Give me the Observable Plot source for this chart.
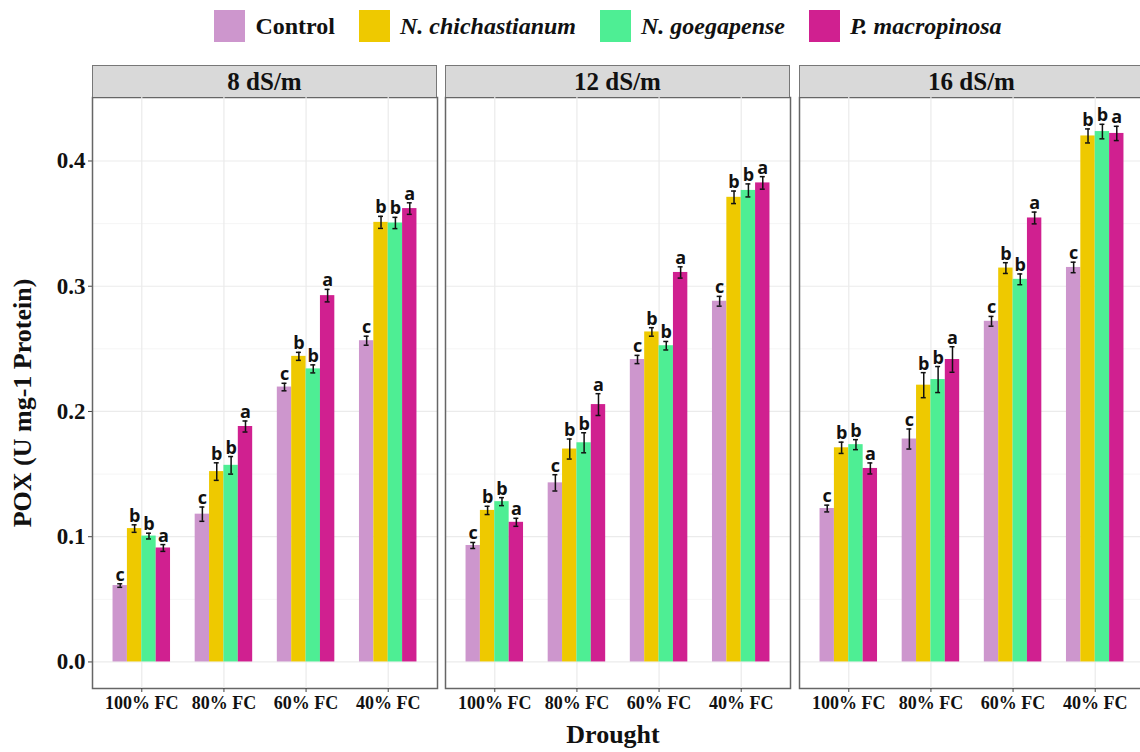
<!DOCTYPE html>
<html><head><meta charset="utf-8">
<script src="https://cdn.jsdelivr.net/npm/d3@7"></script>
<script src="https://cdn.jsdelivr.net/npm/@observablehq/plot@0.6"></script>
<style>
body{margin:0;background:#fff;}
#wrap{position:relative;width:1140px;height:752px;overflow:hidden;background:#fff;font-family:"Liberation Serif","Times New Roman",serif;color:#111;}
.strip{position:absolute;top:65px;height:32px;width:345px;box-sizing:border-box;background:#d9d9d9;border:1.5px solid #777;border-bottom:none;font-weight:bold;font-size:25px;text-align:center;line-height:31px;color:#111;}
#legend{position:absolute;top:10px;left:0;width:1216px;display:flex;justify-content:center;align-items:center;gap:24px;}
.item{display:flex;align-items:center;font-weight:bold;font-size:24px;}
.sw{width:31px;height:32px;margin-right:10px;}
.it{font-style:italic;}
#ytitle{position:absolute;left:23px;top:403px;transform:translate(-50%,-50%) rotate(-90deg);white-space:nowrap;font-weight:bold;font-size:26px;}
#xtitle{position:absolute;left:613px;top:722px;transform:translateX(-50%);white-space:nowrap;font-weight:bold;font-size:26px;line-height:1;}
.svgbox{position:absolute;top:95px;}
.svgbox svg{max-width:none !important;}
</style></head>
<body><div id="wrap">
<div id="legend"></div>
<div id="ytitle">POX (U mg-1 Protein)</div>
<div id="xtitle">Drought</div>
</div>
<script>
// ---- data ----
const salinity = ["8 dS/m", "12 dS/m", "16 dS/m"];
const drought = ["100% FC", "80% FC", "60% FC", "40% FC"];
const treatments = ["Control", "N. chichastianum", "N. goegapense", "P. macropinosa"];
const colors = ["#CD96CD", "#EEC900", "#4EEE94", "#D02090"];
const yTicks = [0, 0.1, 0.2, 0.3, 0.4];
const yMinor = [0.05, 0.15, 0.25, 0.35];

// values ordered: 8 dS/m (100,80,60,40% FC), 12 dS/m (...), 16 dS/m (...)
const controlMean = [0.061, 0.118, 0.2195, 0.2565, 0.093, 0.143, 0.2415, 0.288, 0.1225, 0.178, 0.272, 0.315];
const chichMean   = [0.1065, 0.152, 0.244, 0.351, 0.121, 0.170, 0.2635, 0.371, 0.171, 0.221, 0.3145, 0.420];
const goegMean    = [0.1005, 0.157, 0.234, 0.3505, 0.128, 0.175, 0.2525, 0.3765, 0.1735, 0.2255, 0.3055, 0.4235];
const macroMean   = [0.091, 0.188, 0.2925, 0.362, 0.1115, 0.2055, 0.311, 0.3825, 0.1545, 0.2415, 0.3545, 0.422];

const controlSE = [0.0014, 0.0057, 0.003, 0.0036, 0.0024, 0.0065, 0.0033, 0.0039, 0.0027, 0.008, 0.0039, 0.0042];
const chichSE   = [0.003, 0.007, 0.0032, 0.0048, 0.0033, 0.008, 0.0034, 0.005, 0.0045, 0.010, 0.0043, 0.0056];
const goegSE    = [0.0023, 0.007, 0.0032, 0.0045, 0.0032, 0.008, 0.0034, 0.0052, 0.004, 0.0104, 0.0043, 0.0058];
const macroSE   = [0.0027, 0.0044, 0.005, 0.0046, 0.0032, 0.0087, 0.0045, 0.005, 0.0044, 0.0102, 0.0047, 0.0057];

const controlLetter = ["c","c","c","c","c","c","c","c","c","c","c","c"];
const chichLetter   = ["b","b","b","b","b","b","b","b","b","b","b","b"];
const goegLetter    = ["b","b","b","b","b","b","b","b","b","b","b","b"];
const macroLetter   = ["a","a","a","a","a","a","a","a","a","a","a","a"];

const means = [controlMean, chichMean, goegMean, macroMean];
const ses = [controlSE, chichSE, goegSE, macroSE];
const letters = [controlLetter, chichLetter, goegLetter, macroLetter];

const rows = [];
salinity.forEach((s, si) => drought.forEach((d, di) => treatments.forEach((t, ti) => {
  const k = si * 4 + di;
  rows.push({sal: s, drought: d, trt: t, mean: means[ti][k], se: ses[ti][k], letter: letters[ti][k]});
})));

const yDomain = [-0.0212, 0.4507];
const H = 623, MT = 2, MB = 30;
const wrap = document.getElementById("wrap");

// legend
const legend = document.getElementById("legend");
treatments.forEach((t, i) => {
  const it = document.createElement("div");
  it.className = "item";
  const sw = document.createElement("div");
  sw.className = "sw"; sw.style.background = colors[i];
  const tx = document.createElement("span");
  tx.textContent = t; if (i > 0) tx.className = "it";
  it.appendChild(sw); it.appendChild(tx);
  legend.appendChild(it);
});

function addBox(node, left, w) {
  const b = document.createElement("div"); b.className = "svgbox";
  b.style.left = left + "px"; b.style.width = w + "px"; b.style.height = H + "px";
  b.appendChild(node); wrap.appendChild(b);
}

// y axis
addBox(Plot.plot({
  width: 96, height: H, marginLeft: 92, marginRight: 4, marginTop: MT, marginBottom: MB,
  style: {background: "transparent", color: "#111"},
  y: {domain: yDomain},
  marks: [Plot.axisY({ticks: yTicks, tickFormat: d3.format(".1f"), tickSize: 4, tickPadding: 3,
    fontSize: 23, fontWeight: "bold", fontFamily: "Liberation Serif", label: null, stroke: "#444"})]
}), 0, 96);

const panelLeft = [92, 445, 799];
const PW = 349;

function background() {
  return Plot.plot({
    width: PW, height: H, marginLeft: 2, marginRight: 2, marginTop: MT, marginBottom: MB,
    style: {background: "transparent"},
    y: {domain: yDomain, axis: null},
    marks: [
      Plot.gridY(yMinor, {stroke: "#f2f2f2", strokeOpacity: 1, strokeWidth: 0.8}),
      Plot.gridY(yTicks, {stroke: "#ebebeb", strokeOpacity: 1, strokeWidth: 1.2}),
      Plot.frame({stroke: "#666", strokeWidth: 1.5})
    ]
  });
}

function panel(s) {
  const data = rows.filter(r => r.sal === s);
  const marks = [];
  if (Plot.gridFx) marks.push(Plot.gridFx({stroke: "#ebebeb", strokeOpacity: 1, strokeWidth: 1.2}));
  marks.push(
    Plot.barY(data, {fx: "drought", x: "trt", y: "mean", fill: "trt"}),
    Plot.ruleX(data, {fx: "drought", x: "trt", y1: d => d.mean - d.se, y2: d => d.mean + d.se, stroke: "#111", strokeWidth: 1.5}),
    Plot.tickY(data, {fx: "drought", x: "trt", y: d => d.mean + d.se, insetLeft: 4.7, insetRight: 4.7, stroke: "#111", strokeWidth: 1.5}),
    Plot.tickY(data, {fx: "drought", x: "trt", y: d => d.mean - d.se, insetLeft: 4.7, insetRight: 4.7, stroke: "#111", strokeWidth: 1.5}),
    Plot.text(data, {fx: "drought", x: "trt", y: d => d.mean + d.se, text: "letter", lineAnchor: "bottom", dy: -3,
      fontSize: 18, fontWeight: "bold", fontFamily: "Open Sans", fill: "#111"}),
    Plot.axisFx({anchor: "bottom", tickSize: 4, tickPadding: 4, fontSize: 18, fontWeight: "bold",
      fontFamily: "Liberation Serif", label: null, stroke: "#444"})
  );
  return Plot.plot({
    width: PW, height: H, marginLeft: 2, marginRight: 2, marginTop: MT, marginBottom: MB,
    style: {background: "transparent", color: "#111"},
    fx: {domain: drought, paddingInner: 0.3, paddingOuter: 0.25, round: false, label: null},
    x: {domain: treatments, padding: 0, axis: null, round: false},
    y: {domain: yDomain, axis: null},
    color: {domain: treatments, range: colors},
    marks
  });
}

salinity.forEach((s, i) => {
  addBox(background(), panelLeft[i] - 2, PW);
  addBox(panel(s), panelLeft[i] - 2, PW);
  const st = document.createElement("div"); st.className = "strip";
  st.style.left = panelLeft[i] + "px"; st.textContent = s;
  wrap.appendChild(st);
});
</script>
</body></html>
